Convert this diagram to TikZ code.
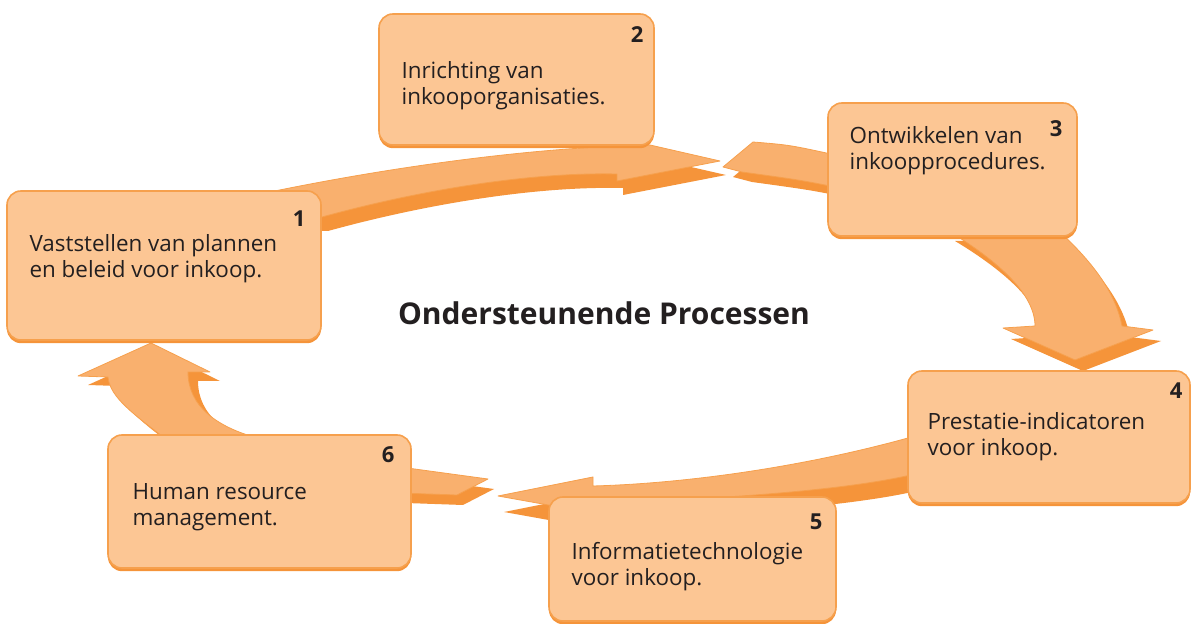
\documentclass[tikz,border=0pt]{standalone}
\usepackage{fontspec}
\setmainfont{Open Sans}
\usetikzlibrary{shadows}
\definecolor{vakvul}{HTML}{FCC694}
\definecolor{vakrand}{HTML}{F6A04D}
\definecolor{pijllicht}{HTML}{F9B06E}
\definecolor{pijldonker}{HTML}{F5943A}
\definecolor{tekst}{HTML}{231F20}
\tikzset{
  vak/.style={draw=vakrand, fill=vakvul, line width=0.8pt, rounded corners=7pt, inner sep=0pt,
    drop shadow={shadow xshift=0pt, shadow yshift=-1.6pt, fill=pijldonker, opacity=1}},
  vaktekst/.style={anchor=north west, align=left, inner sep=0pt, text=tekst, font=\fontsize{11.2}{13}\selectfont},
  nummer/.style={anchor=north east, inner sep=0pt, text=tekst, font=\fontsize{11}{13}\selectfont\bfseries},
  pijl/.style={fill=pijllicht, draw=vakrand, line width=0.4pt, line join=round},
  pijlschaduw/.style={fill=pijldonker}
}
\newcommand{\pijlA}{(265,193) .. controls (400,165) and (540,147) .. (650,145) -- (720,161) -- (617,181) -- (617,174) .. controls (530,172) and (420,190) .. (322,217) -- (300,217) -- cycle}
\newcommand{\pijlB}{(753,142) .. controls (790,145) .. (840,156) -- (840,188) .. controls (800,180) .. (742,172) -- (723,167) -- cycle}
\newcommand{\pijlC}{(947,230) .. controls (1000,262) and (1035,295) .. (1035,326) -- (1003,328) -- (1075,360) -- (1153,330) -- (1122,326) .. controls (1115,290) and (1090,260) .. (1058,230) -- cycle}
\newcommand{\pijlD}{(915,436) .. controls (820,463) and (700,483) .. (593,486) -- (593,477) -- (498,496) -- (565,508) -- (593,503) .. controls (700,500) and (840,492) .. (915,474) -- cycle}
\newcommand{\pijlE}{(400,467) -- (488,479) -- (457,495) -- (400,493) -- cycle}
\newcommand{\pijlF}{(167,440) .. controls (135,415) and (110,398) .. (108,377) -- (78,376) -- (151,343) -- (210,372) -- (188,372) .. controls (188,405) and (215,428) .. (265,440) -- cycle}
\begin{document}
\begin{tikzpicture}[x=0.5pt, y=-0.5pt]
  \useasboundingbox (0,0) rectangle (1193,624);
  \fill[pijlschaduw, shift={(6,14)}] \pijlA;
  \filldraw[pijl] \pijlA;
  \fill[pijlschaduw, shift={(10,10)}] \pijlB;
  \filldraw[pijl] \pijlB;
  \fill[pijlschaduw, shift={(8,11)}] \pijlC;
  \filldraw[pijl] \pijlC;
  \fill[pijlschaduw, shift={(6,16)}] \pijlD;
  \filldraw[pijl] \pijlD;
  \fill[pijlschaduw, shift={(6,10)}] \pijlE;
  \filldraw[pijl] \pijlE;
  \fill[pijlschaduw, shift={(10,9)}] \pijlF;
  \filldraw[pijl] \pijlF;

  \node[vak, minimum width=157pt, minimum height=74.5pt] (v1) at (164,265.5) {};
  \node[vak, minimum width=137.5pt, minimum height=65.5pt] (v2) at (516.5,79.5) {};
  \node[vak, minimum width=124.5pt, minimum height=66.5pt] (v3) at (952.5,169.5) {};
  \node[vak, minimum width=141pt, minimum height=66pt] (v4) at (1049,437) {};
  \node[vak, minimum width=143.5pt, minimum height=62pt] (v5) at (692.5,559) {};
  \node[vak, minimum width=151.5pt, minimum height=66.5pt] (v6) at (259.5,501.5) {};

  \node[nummer] (n1) at ([shift={(-16,20)}]v1.north east) {1};
  \node[nummer] (n2) at ([shift={(-11,13)}]v2.north east) {2};
  \node[nummer] (n3) at ([shift={(-15,18)}]v3.north east) {3};
  \node[nummer] (n4) at ([shift={(-8,12)}]v4.north east) {4};
  \node[nummer] (n5) at ([shift={(-14,17)}]v5.north east) {5};
  \node[nummer] (n6) at ([shift={(-17,12)}]v6.north east) {6};

  \node[vaktekst] (t1) at ([shift={(23,44)}]v1.north west) {Vaststellen van plannen\\en beleid voor inkoop.};
  \node[vaktekst] (t2) at ([shift={(23,48)}]v2.north west) {Inrichting van\\inkooporganisaties.};
  \node[vaktekst] (t3) at ([shift={(22,24)}]v3.north west) {Ontwikkelen van\\inkoopprocedures.};
  \node[vaktekst] (t4) at ([shift={(20,42)}]v4.north west) {Prestatie-indicatoren\\voor inkoop.};
  \node[vaktekst] (t5) at ([shift={(23,46)}]v5.north west) {Informatietechnologie\\voor inkoop.};
  \node[vaktekst] (t6) at ([shift={(25,49)}]v6.north west) {Human resource\\management.};

  \node[text=tekst, font=\fontsize{15}{18}\selectfont\bfseries] (titel) at (604,313) {Ondersteunende Processen};
\end{tikzpicture}
\end{document}
